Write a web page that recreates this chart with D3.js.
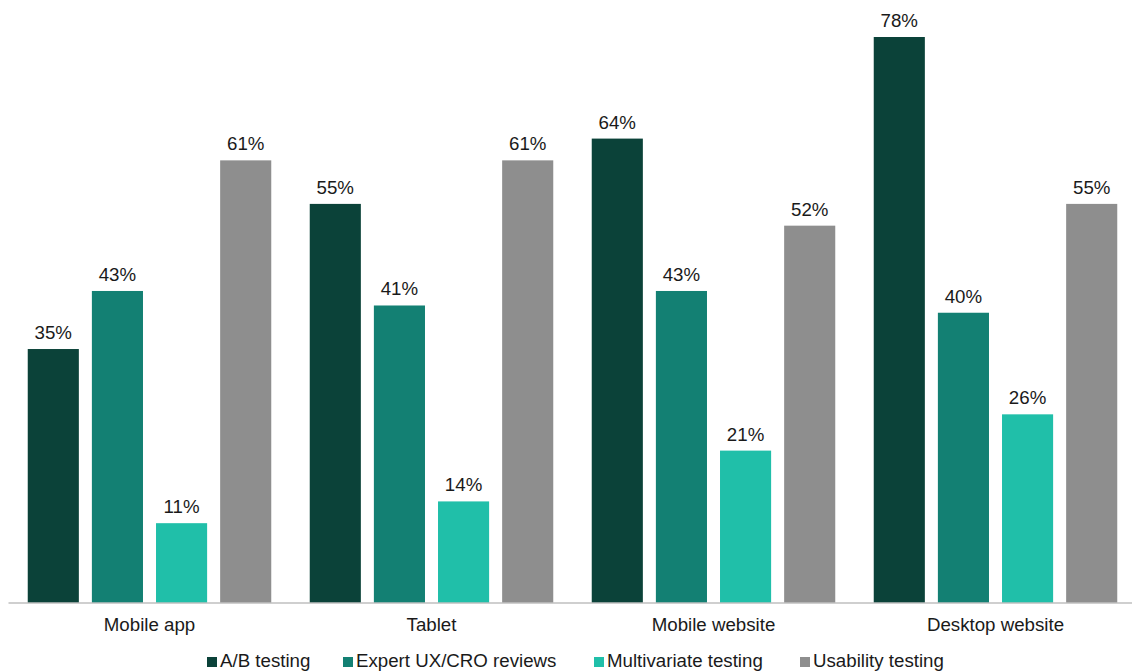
<!DOCTYPE html>
<html><head><meta charset="utf-8">
<script src="https://cdn.jsdelivr.net/npm/d3@7"></script>
<style>body{margin:0;background:#fff}svg{display:block}text{font-family:"Liberation Sans",Arial,sans-serif;fill:#1a1a1a}</style>
</head><body><svg id="c" width="1132" height="671"></svg>
<script>
const categories = ["Mobile app", "Tablet", "Mobile website", "Desktop website"];
const seriesNames = ["A/B testing", "Expert UX/CRO reviews", "Multivariate testing", "Usability testing"];
const abTesting = [35, 55, 64, 78];
const expertReviews = [43, 41, 43, 40];
const multivariate = [11, 14, 21, 26];
const usability = [61, 61, 52, 55];
const colors = ["#0b4239", "#138073", "#20bfa9", "#8e8e8e"];

const seriesValues = [abTesting, expertReviews, multivariate, usability];
const svg = d3.select("#c");
const left = 8.5, right = 1136.5, base = 603;
const FS = 18.7;
const x0 = d3.scaleBand().domain(categories).range([left, right]).paddingInner(0).paddingOuter(0);
const x1 = d3.scaleBand().domain(seriesNames).range([0, x0.bandwidth()]).paddingInner(13/64).paddingOuter(0.3);
const y = d3.scaleLinear().domain([0, 78]).range([base, 37]);

const data = [];
categories.forEach((c, i) => seriesNames.forEach((s, j) => data.push({c, s, j, v: seriesValues[j][i]})));

svg.selectAll("rect.bar").data(data).join("rect").attr("class","bar")
  .attr("x", d => x0(d.c) + x1(d.s)).attr("width", x1.bandwidth())
  .attr("y", d => y(d.v)).attr("height", d => base - y(d.v))
  .attr("fill", d => colors[d.j]);

svg.selectAll("text.val").data(data).join("text").attr("class","val")
  .attr("x", d => x0(d.c) + x1(d.s) + x1.bandwidth()/2)
  .attr("y", d => y(d.v) - 10).attr("text-anchor","middle").attr("font-size", FS)
  .text(d => d.v + "%");

const ax = svg.append("g").attr("transform", `translate(0,${base})`)
  .call(d3.axisBottom(x0).tickSize(0).tickPadding(15));
ax.select(".domain").attr("stroke", "#bfbfbf").attr("stroke-width", 1.5).attr("d", `M${left},0H1132`);
ax.selectAll(".tick text").attr("font-size", FS).attr("fill", "#1a1a1a")
  .style("font-family", '"Liberation Sans",Arial,sans-serif');

const legendX = [207, 343, 594, 800];
const lg = svg.append("g");
seriesNames.forEach((s, j) => {
  lg.append("rect").attr("x", legendX[j]).attr("y", 657).attr("width", 10).attr("height", 10).attr("fill", colors[j]);
  lg.append("text").attr("x", legendX[j] + 13).attr("y", 667).attr("font-size", FS).text(s);
});
</script></body></html>
